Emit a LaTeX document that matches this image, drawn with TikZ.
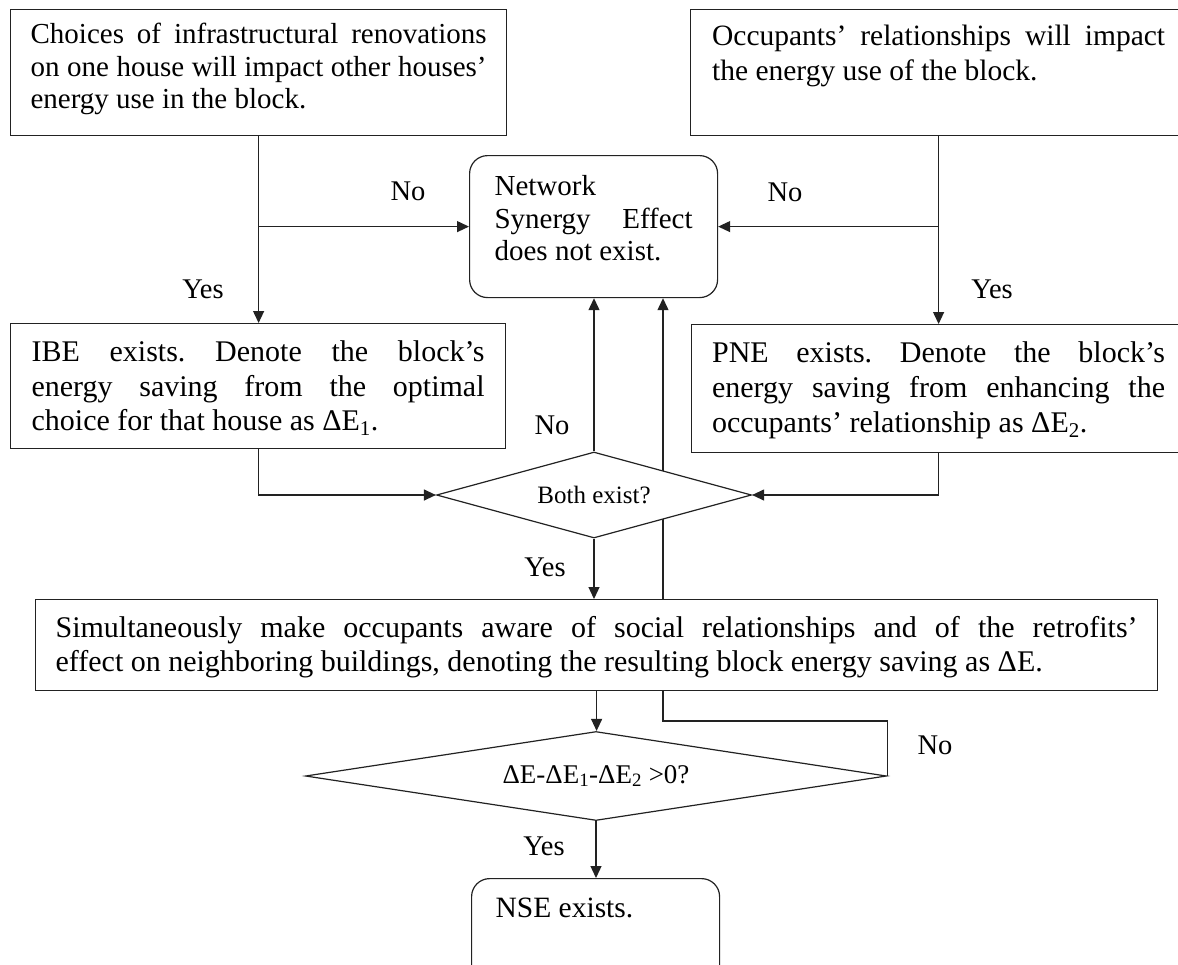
\documentclass[tikz,border=0pt]{standalone}
\usepackage{fontspec}
\setmainfont{Liberation Serif}
\usetikzlibrary{shapes.geometric,arrows.meta,backgrounds}

\definecolor{linec}{HTML}{222222}
\frenchspacing

% one justified line of a text block, stretched to the full width
\newcommand\jl[1]{\makebox[\linewidth][s]{#1}\\}
% text block: total height, width, first-baseline drop, body
\newcommand\blocktext[4]{\parbox[c][#1][t]{#2}{\rule{0pt}{#3}#4}}

\tikzset{
  box/.style={draw=linec, line width=1.2pt, fill=white, rectangle,
              inner sep=0pt, anchor=north west},
  rbox/.style={box, rounded corners=18pt},
  decision/.style={draw=linec, line width=1.2pt, fill=white, diamond,
                   inner sep=0pt},
  conn/.style={draw=linec, line width=1.2pt,
               -{Triangle[length=12pt,width=11pt]}},
  lbl/.style={inner sep=0pt, font=\fontsize{28.5}{30}\selectfont}
}

\begin{document}
\begin{tikzpicture}[x=1pt,y=-1pt]
\useasboundingbox (0,0) rectangle (1178,964);

% ---- process boxes ----
\node[box, minimum width=496pt, minimum height=126pt] (A) at (10,9)
  {\fontsize{29}{32.5}\selectfont\blocktext{126pt}{456pt}{34pt}{%
   \jl{Choices of infrastructural renovations}%
   \jl{on one house will impact other houses’}%
   energy use in the block.}};

\node[box, minimum width=496pt, minimum height=126pt] (B) at (690,9)
  {\fontsize{29.5}{35}\selectfont\blocktext{126pt}{453pt}{36pt}{%
   \jl{Occupants’ relationships will impact}%
   the energy use of the block.}};

\node[box, minimum width=495pt, minimum height=125pt] (C) at (10,323)
  {\fontsize{30}{34.5}\selectfont\blocktext{125pt}{453pt}{38pt}{%
   \jl{IBE exists. Denote the block’s}%
   \jl{energy saving from the optimal}%
   choice for that house as ΔE\textsubscript{1}.}};

\node[box, minimum width=494pt, minimum height=128pt] (D) at (691,324)
  {\fontsize{30}{35}\selectfont\blocktext{128pt}{453pt}{38pt}{%
   \jl{PNE exists. Denote the block’s}%
   \jl{energy saving from enhancing the}%
   occupants’ relationship as ΔE\textsubscript{2}.}};

\node[rbox, minimum width=248pt, minimum height=142pt] (E) at (469,155)
  {\fontsize{29}{32.5}\selectfont\blocktext{142pt}{198pt}{40pt}{%
   Network\\%
   \jl{Synergy Effect}%
   does not exist.}};

\node[box, minimum width=1122pt, minimum height=91pt] (F) at (35,599)
  {\fontsize{30}{33.5}\selectfont\blocktext{91pt}{1082pt}{38pt}{%
   \jl{Simultaneously make occupants aware of social relationships and of the retrofits’}%
   effect on neighboring buildings, denoting the resulting block energy saving as ΔE.}};

\node[rbox, minimum width=248pt, minimum height=120pt] (G) at (471,878)
  {\fontsize{29.5}{33}\selectfont\blocktext{120pt}{200pt}{39pt}{NSE exists.}};

% ---- decisions ----
\node[decision, aspect=3.66, minimum width=315pt, minimum height=86pt] (H) at (594,495)
  {\fontsize{25}{28}\selectfont Both exist?};

\node[decision, aspect=6.5, minimum width=581pt, minimum height=89pt] (I) at (596,776)
  {\fontsize{27}{30}\selectfont ΔE-ΔE\textsubscript{1}-ΔE\textsubscript{2} >0?};

% ---- connectors ----
\draw[conn] (A.south) -- (A.south |- C.north);
\draw[conn] (A.south |- E.west) -- (E.west);
\draw[conn] (B.south) -- (B.south |- D.north);
\draw[conn] (B.south |- E.east) -- (E.east);
\draw[conn] (C.south) |- (H.west);
\draw[conn] (D.south) |- (H.east);
\draw[conn] (H.north) -- (H.north |- E.south);
\draw[conn] (H.south) -- (H.south |- F.north);
\draw[conn] (F.south) -- (F.south |- I.north);
\draw[conn] (I.south) -- (I.south |- G.north);

% the "No" return from the second test runs behind the boxes it crosses
\begin{pgfonlayer}{background}
  \fill[white] (0,0) rectangle (1178,964);
  \coordinate (loop) at (663,721);
  \draw[conn] (I.east) |- (loop) -- (loop |- E.south);
\end{pgfonlayer}

% ---- branch labels ----
\node[lbl] (noA)  at (408,191) {No};
\node[lbl] (noB)  at (785,192) {No};
\node[lbl] (yesA) at (203,289) {Yes};
\node[lbl] (yesB) at (992,289) {Yes};
\node[lbl] (noH)  at (552,425) {No};
\node[lbl] (yesH) at (545,567) {Yes};
\node[lbl] (noI)  at (935,745) {No};
\node[lbl] (yesI) at (544,846) {Yes};
\end{tikzpicture}
\end{document}
